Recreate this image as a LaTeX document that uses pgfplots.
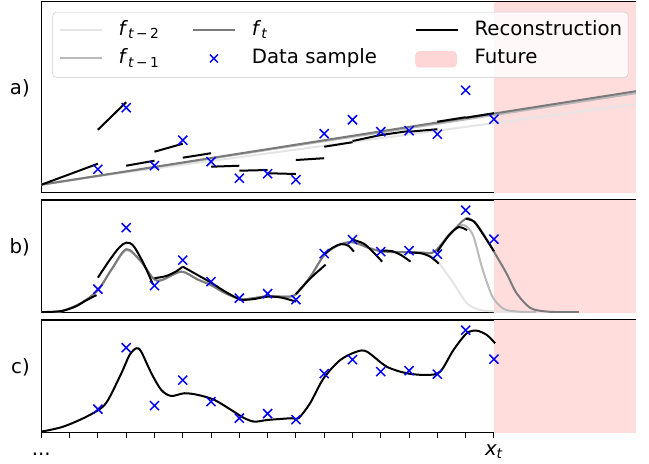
\documentclass[border=0pt]{standalone}
\usepackage{fontspec}
\setmainfont{DejaVu Sans}
\usepackage{pgfplots}
\pgfplotsset{compat=1.18}
\definecolor{fut}{RGB}{255,221,221}
\definecolor{futleg}{RGB}{255,204,204}
\colorlet{ftm2}{black!10}
\colorlet{ftm1}{black!27}
\colorlet{ftc}{black!52}
\newcommand{\fs}{\fontsize{14.8}{17.8}\selectfont}
\newcommand{\dts}{.{}.{}.}
\pgfplotsset{
  panel/.style={scale only axis, width=446pt, xmin=0, xmax=21.02, ymin=0,
    axis line style={line width=0.8pt}, xtick=\empty, ytick=\empty, clip mode=individual,
    every tick label/.append style={font=\fs}},
  recon/.style={black, line width=1.5pt, forget plot},
  gline/.style={line width=1.5pt, forget plot},
  samp/.style={only marks, mark=x, mark size=4.8pt, blue, mark options={line width=1.1pt, solid}, forget plot},
  fut/.style={fill=fut, draw=none, forget plot},
  limg/.style={legend image code/.code={\draw[##1] (0pt,0.5pt) -- (31.5pt,0.5pt);}},
  mimg/.style={legend image code/.code={\draw[mark repeat=2,mark phase=2,##1] plot coordinates {(0pt,0.5pt) (15.75pt,0.5pt) (31.5pt,0.5pt)};}},
  fimg/.style={legend image code/.code={\fill[futleg] (0pt,-6pt) rectangle (30.75pt,5.8pt);}},
}
\pgfplotstableread{
x y
2 23.5
3 85
4 27
5 52.5
6 31
7 14.5
8 19
9 13
10 59
11 73
12 61
13 62
14 58.5
15 102.5
16 73.5
}\samples
\begin{document}
\fs
\begin{tikzpicture}
\useasboundingbox (-31pt,1.3pt) rectangle (455.8pt,-346pt);
% ---------------- panel a ----------------
\begin{axis}[panel, at={(0pt,0pt)}, anchor=north west, height=143.25pt, ymax=191,
  legend columns=3,
  legend cell align=left,
  legend style={at={(0.0185,0.947)}, anchor=north west, draw=black!20,
    rounded corners=3pt, fill=white, fill opacity=0.8, text opacity=1, draw opacity=1,
    inner xsep=4.5pt, inner ysep=6.25pt, column sep=0pt, row sep=6.5pt, font=\fs,
    nodes={inner sep=0pt, text height=11pt, text depth=4pt}},
]
\addplot[fut] coordinates {(16,0) (21.02,0) (21.02,191) (16,191)} -- cycle;
\addplot[gline, ftm2] coordinates {(0,9) (21.02,88.7)};
\addplot[gline, ftm1] coordinates {(0,8) (21.02,99.5)};
\addplot[gline, ftc] coordinates {(0,8) (21.02,101.5)};
\addplot[recon] coordinates {(0,8) (2,29)};
\addplot[recon] coordinates {(2,63) (3,90.5)};
\addplot[recon] coordinates {(3,27) (4,32)};
\addplot[recon] coordinates {(4,41) (5,49)};
\addplot[recon] coordinates {(5,35) (6,39.5)};
\addplot[recon] coordinates {(6,26) (7,27)};
\addplot[recon] coordinates {(7,22) (8,22.7)};
\addplot[recon] coordinates {(8,19.5) (9,18.7)};
\addplot[recon] coordinates {(9,32.7) (10,34.5)};
\addplot[recon] coordinates {(10,46) (11,50.5)};
\addplot[recon] coordinates {(11,51.7) (12,57.7)};
\addplot[recon] coordinates {(12,57.7) (13,61.7)};
\addplot[recon] coordinates {(13,61) (14,63.5)};
\addplot[recon] coordinates {(14,71) (15,75.5)};
\addplot[recon] coordinates {(15,75) (16,79.5)};
\addplot[samp] table {\samples};
\addlegendimage{limg, ftm2, line width=1.5pt}
\addlegendentry{\makebox[67pt][l]{\hspace{12pt}\textit{f}\textsubscript{\textit{t}\,−\,2}}}
\addlegendimage{limg, ftc, line width=1.5pt}
\addlegendentry{\makebox[134pt][l]{\hspace{12pt}\textit{f}\textsubscript{\textit{t}}}}
\addlegendimage{limg, black, line width=1.5pt}
\addlegendentry{\hspace{12pt}Reconstruction}
\addlegendimage{limg, ftm1, line width=1.5pt}
\addlegendentry{\makebox[67pt][l]{\hspace{12pt}\textit{f}\textsubscript{\textit{t}\,−\,1}}}
\addlegendimage{mimg, only marks, mark=x, mark size=4.2pt, blue, mark options={line width=1.1pt}}
\addlegendentry{\makebox[134pt][l]{\hspace{12pt}Data sample}}
\addlegendimage{fimg}
\addlegendentry{\hspace{12pt}Future}
\node[anchor=south east, inner sep=0pt, xshift=-8.5pt, font=\fs] at (rel axis cs:0,0.5) {a)};
\end{axis}
% ---------------- panel b ----------------
\begin{axis}[panel, at={(0pt,-148.7pt)}, anchor=north west, height=84.5pt, ymax=112.7]
\addplot[fut] coordinates {(16,0) (21.02,0) (21.02,112.7) (16,112.7)} -- cycle;
\addplot[gline, ftm2, smooth] coordinates {(0,0.5) (0.7,1.5) (1.4,9.5) (2,22.5) (2.5,44) (3,62.5) (3.5,52) (3.95,34.5) (4.25,32.5) (4.95,41) (5.5,33.5) (6,27.5) (6.5,19.5) (7.05,13.5) (7.5,14.5) (8,16.5) (8.7,16) (9,18.5) (9.5,35.5) (10,57.5) (10.5,67.5) (11,70.5) (11.6,64.5) (12,61.5) (12.5,60.5) (13,60.5) (13.5,59.5) (13.86,56) (14.1,48) (14.57,29.5) (15.04,9.5) (15.5,2.7) (16.1,1.2) (16.7,0.7) (17.5,0.5)};
\addplot[gline, ftm1, smooth] coordinates {(0,0.5) (0.7,1.5) (1.4,9.5) (2,22.5) (2.5,44) (3,62.5) (3.5,52) (3.95,34.5) (4.25,32.5) (4.95,41) (5.5,33.5) (6,27.5) (6.5,19.5) (7.05,13.5) (7.5,14.5) (8,16.5) (8.7,16) (9,18.5) (9.5,35.5) (10,57.5) (10.5,67.5) (11,70.5) (11.6,64.5) (12,61.5) (12.5,60.5) (13,60.5) (13.5,60) (13.9,61) (14.4,78) (14.8,87.5) (15.04,86) (15.28,76) (15.57,46) (15.92,17.5) (16.2,7) (16.45,2.5) (17,0.7) (17.5,0.5)};
\addplot[gline, ftc, smooth] coordinates {(0,0.5) (0.7,1.5) (1.4,9.5) (2,22.5) (2.5,44) (3,63.5) (3.5,52) (3.95,34.5) (4.25,32.5) (4.95,41) (5.5,33.5) (6,27.5) (6.5,19.5) (7.05,13.5) (7.5,14.5) (8,16.5) (8.7,16) (9,18.5) (9.5,35.5) (10,57.5) (10.5,67.5) (11,70.5) (11.6,64.5) (12,61.5) (12.5,60.5) (13,60.5) (13.5,60) (13.9,61) (14.5,80) (15,94) (15.3,91) (15.6,80) (16,61) (16.45,39) (16.8,19.5) (17.3,4.5) (17.9,1) (18.5,0.5) (19,0.5)};
\addplot[recon, smooth] coordinates {(0,0.5) (0.7,1.5) (1.2,6) (1.6,12.5) (1.95,17.5)};
\addplot[recon, smooth] coordinates {(2,35) (2.4,52) (2.75,65) (3,70) (3.25,67) (3.6,50) (3.95,28)};
\addplot[recon, smooth] coordinates {(4,34.5) (4.4,36.5) (4.75,41) (5,46)};
\addplot[recon, smooth] coordinates {(5,46) (5.5,38) (6,30) (6.5,21) (7.05,12.5)};
\addplot[recon, smooth] coordinates {(7.05,12.5) (7.5,13.5) (8,16) (8.5,15) (9,11)};
\addplot[recon, smooth] coordinates {(9,18.5) (9.5,34) (10.05,48)};
\addplot[recon, smooth] coordinates {(10,58.5) (10.3,65) (10.6,68.5) (10.85,67) (11.05,61)};
\addplot[recon, smooth] coordinates {(11,73) (11.4,69) (11.75,60) (12.05,51)};
\addplot[recon, smooth] coordinates {(12,62) (12.4,61.5) (12.75,57) (13.05,51)};
\addplot[recon, smooth] coordinates {(13,60) (13.4,59.5) (13.75,56) (14.05,49)};
\addplot[recon, smooth] coordinates {(14,61) (14.4,77) (14.75,85.5) (15.05,82.5)};
\addplot[recon, smooth] coordinates {(15,94) (15.3,91) (15.6,79) (16,61.5)};
\addplot[samp] table {\samples};
\node[anchor=south east, inner sep=0pt, xshift=-8.5pt, font=\fs] at (rel axis cs:0,0.5) {b)};
\end{axis}
% ---------------- panel c ----------------
\begin{axis}[panel, at={(0pt,-238.7pt)}, anchor=north west, height=84.5pt, ymax=112.7,
  xtick={0,1,2,3,4,5,6,7,8,9,10,11,12,13,14,15,16},
  xticklabels={\dts,,,,,,,,,,,,,,,,{\itshape x}\textsubscript{\itshape t}},
  xticklabel style={text height=8.1pt},
  xtick pos=lower, tick align=outside, major tick length=3.75pt,
  tick style={black, line width=0.75pt},
]
\addplot[fut] coordinates {(16,0) (21.02,0) (21.02,112.7) (16,112.7)} -- cycle;
\addplot[recon, smooth] coordinates {(0,1) (0.71,5.4) (1.41,13.4) (2.06,23.4) (2.36,32.7) (2.83,59.4) (3.12,77.7) (3.36,84.4) (3.53,81) (3.89,59.4) (4.24,42.7) (4.59,36.7) (5.06,39.4) (5.54,37.7) (6.12,32.7) (6.71,22.7) (7.18,14.4) (7.54,11) (8.01,12.7) (8.83,14.4) (9.09,14.4) (9.5,29.4) (9.98,54.4) (10.57,72.7) (11.15,81) (11.51,81) (12.21,66) (12.92,59.4) (13.63,57.7) (14.1,61) (14.57,82.7) (15.04,99.4) (15.39,102) (15.75,97.7) (16.04,89.4)};
\addplot[samp] table {\samples};
\node[anchor=south east, inner sep=0pt, xshift=-8.5pt, font=\fs] at (rel axis cs:0,0.5) {c)};
\end{axis}
\end{tikzpicture}
\end{document}
